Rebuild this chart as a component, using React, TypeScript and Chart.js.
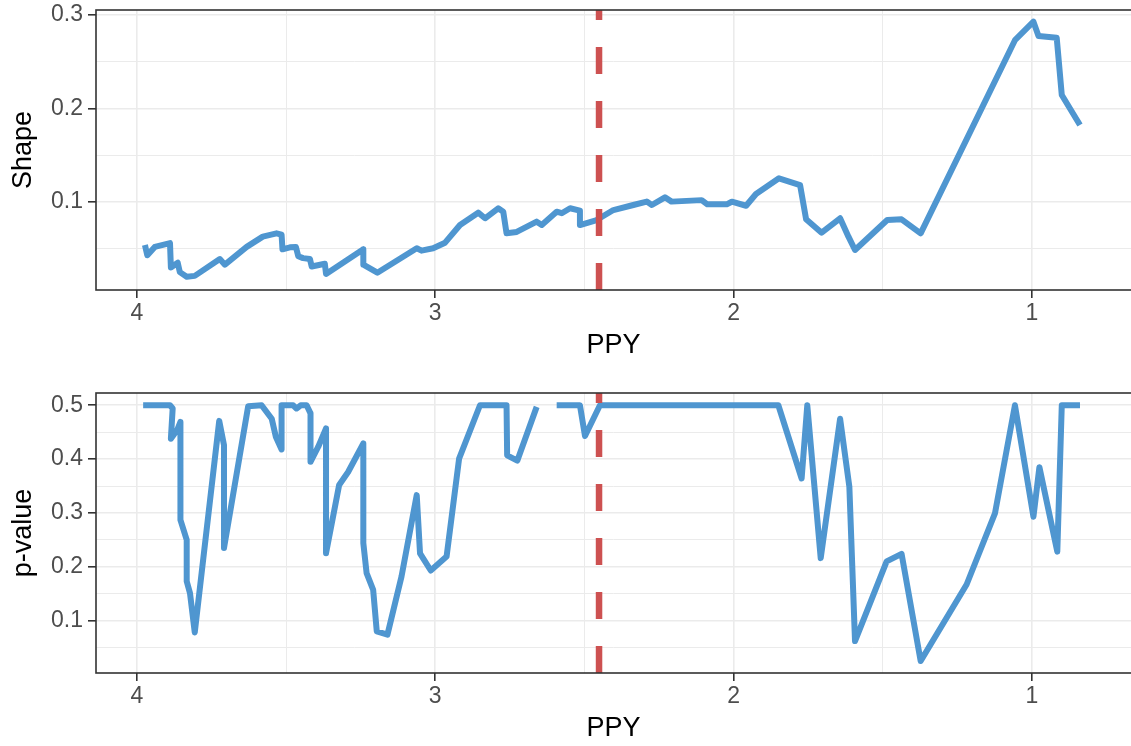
import React, { useEffect, useRef } from 'react';
import { Chart, registerables } from 'chart.js';

Chart.register(...registerables);

// ---- data ----
const shapeX = [3.973, 3.965, 3.940, 3.889, 3.886, 3.863, 3.856, 3.833, 3.806, 3.722, 3.705, 3.632, 3.578, 3.532, 3.515, 3.512, 3.487, 3.467, 3.459, 3.443, 3.420, 3.414, 3.370, 3.366, 3.241, 3.241, 3.194, 3.062, 3.046, 3.007, 2.967, 2.917, 2.856, 2.833, 2.789, 2.772, 2.761, 2.727, 2.660, 2.643, 2.593, 2.576, 2.548, 2.515, 2.515, 2.459, 2.403, 2.336, 2.291, 2.274, 2.230, 2.208, 2.107, 2.088, 2.023, 2.006, 1.958, 1.925, 1.848, 1.777, 1.757, 1.705, 1.643, 1.615, 1.593, 1.485, 1.437, 1.373, 1.057, 0.995, 0.978, 0.917, 0.900, 0.839];
const shapeY = [0.054, 0.043, 0.052, 0.056, 0.030, 0.035, 0.025, 0.020, 0.021, 0.039, 0.033, 0.052, 0.063, 0.0665, 0.065, 0.0494, 0.0515, 0.052, 0.042, 0.040, 0.039, 0.031, 0.034, 0.023, 0.0494, 0.033, 0.0244, 0.0505, 0.048, 0.0505, 0.0565, 0.0754, 0.0886, 0.0826, 0.0933, 0.0896, 0.0665, 0.068, 0.079, 0.0754, 0.0896, 0.088, 0.0933, 0.0907, 0.0754, 0.0807, 0.0914, 0.0968, 0.1004, 0.0968, 0.105, 0.1004, 0.102, 0.0975, 0.0975, 0.1003, 0.096, 0.1086, 0.1253, 0.118, 0.0815, 0.0672, 0.0826, 0.0629, 0.0487, 0.0807, 0.0815, 0.0665, 0.273, 0.2928, 0.2775, 0.2757, 0.2144, 0.1824];

const pvalX = [3.979, 3.889, 3.880, 3.886, 3.865, 3.854, 3.854, 3.833, 3.833, 3.822, 3.806, 3.724, 3.708, 3.708, 3.627, 3.582, 3.548, 3.534, 3.515, 3.515, 3.476, 3.465, 3.451, 3.431, 3.418, 3.418, 3.392, 3.366, 3.366, 3.322, 3.292, 3.241, 3.241, 3.230, 3.208, 3.196, 3.160, 3.113, 3.062, 3.051, 3.015, 2.962, 2.920, 2.850, 2.761, 2.759, 2.725, 2.660, 2.627, 2.593, 2.515, 2.498, 2.448, 1.850, 1.772, 1.753, 1.708, 1.643, 1.612, 1.593, 1.487, 1.437, 1.373, 1.219, 1.124, 1.057, 0.995, 0.975, 0.915, 0.900, 0.839];
const pvalY = [0.5, 0.5, 0.494, 0.438, 0.454, 0.469, 0.287, 0.25, 0.173, 0.151, 0.078, 0.471, 0.426, 0.235, 0.498, 0.5, 0.475, 0.441, 0.418, 0.5, 0.5, 0.494, 0.5, 0.5, 0.485, 0.395, 0.423, 0.457, 0.225, 0.352, 0.376, 0.429, 0.244, 0.188, 0.157, 0.080, 0.074, 0.182, 0.333, 0.225, 0.193, 0.219, 0.401, 0.5, 0.5, 0.407, 0.397, 0.497, null, 0.5, 0.5, 0.443, 0.5, 0.5, 0.364, 0.5, 0.216, 0.475, 0.349, 0.062, 0.210, 0.224, 0.025, 0.167, 0.299, 0.5, 0.293, 0.385, 0.228, 0.5, 0.5];

const xMajorTicks = [4, 3, 2, 1];
const shapeMajorTicks = [0.1, 0.2, 0.3];
const pvalMajorTicks = [0.1, 0.2, 0.3, 0.4, 0.5];
const vlineX = 2.451;

const FONT = "'Liberation Sans', Arial, Helvetica, sans-serif";
const LINE_COLOR = '#4f96d0';

const near = (list: number[], v: number) => list.some((m) => Math.abs(m - v) < 1e-6);

const panelPlugin = {
  id: 'panel',
  afterDatasetsDraw(chart: any, _args: any, opts: any) {
    const { ctx, chartArea: a, scales } = chart;
    const px = scales.x.getPixelForValue(opts.vline);
    ctx.save();
    ctx.beginPath();
    ctx.rect(a.left, a.top, a.right - a.left, a.bottom - a.top);
    ctx.clip();
    ctx.strokeStyle = '#cd5151';
    ctx.lineWidth = 6.5;
    ctx.lineCap = 'butt';
    ctx.setLineDash([27, 27]);
    ctx.beginPath();
    ctx.moveTo(px, a.bottom);
    ctx.lineTo(px, a.top);
    ctx.stroke();
    ctx.restore();
    ctx.save();
    ctx.strokeStyle = '#333333';
    ctx.lineWidth = 1.6;
    ctx.strokeRect(a.left, a.top, a.right - a.left + 10, a.bottom - a.top);
    ctx.restore();
  },
};

type PanelProps = {
  xs: number[];
  ys: (number | null)[];
  yMin: number;
  yMax: number;
  yMajor: number[];
  yTitle: string;
  height: number;
  padTop: number;
  axisH: number;
  titlePadBottom: number;
};

function Panel({ xs, ys, yMin, yMax, yMajor, yTitle, height, padTop, axisH, titlePadBottom }: PanelProps) {
  const ref = useRef<HTMLCanvasElement | null>(null);
  useEffect(() => {
    const data = xs.map((x, i) => ({ x, y: ys[i] }));
    const chart = new Chart(ref.current as HTMLCanvasElement, {
      type: 'line',
      data: {
        datasets: [
          {
            data: data as any,
            borderColor: LINE_COLOR,
            borderWidth: 6,
            pointRadius: 0,
            tension: 0,
            borderJoinStyle: 'round',
            borderCapStyle: 'butt',
            spanGaps: false,
          },
        ],
      },
      options: {
        animation: false,
        responsive: false,
        devicePixelRatio: 1,
        layout: { padding: { top: padTop, left: 0, right: 0, bottom: 0 } },
        plugins: {
          legend: { display: false },
          tooltip: { enabled: false },
          panel: { vline: vlineX },
        } as any,
        scales: {
          x: {
            type: 'linear',
            reverse: true,
            min: 0.668,
            max: 4.137,
            border: { display: false },
            grid: {
              color: '#ebebeb',
              lineWidth: (c: any) => (near(xMajorTicks, c.tick.value) ? 1.6 : 1),
              tickColor: (c: any) => (near(xMajorTicks, c.tick.value) ? '#333333' : 'rgba(0,0,0,0)'),
              tickWidth: 1.6,
              tickLength: 8,
              drawTicks: true,
            } as any,
            ticks: {
              stepSize: 0.5,
              includeBounds: false,
              autoSkip: false,
              maxRotation: 0,
              padding: 2,
              color: '#4d4d4d',
              font: { family: FONT, size: 23 },
              callback: (v: any) => (near(xMajorTicks, Number(v)) ? String(Math.round(Number(v))) : ''),
            },
            title: {
              display: true,
              text: 'PPY',
              color: '#000000',
              font: { family: FONT, size: 27 },
              padding: { top: 0, bottom: titlePadBottom },
            },
            afterFit: (s: any) => {
              s.height = axisH;
              s.paddingLeft = 0;
              s.paddingRight = 0;
            },
          } as any,
          y: {
            type: 'linear',
            min: yMin,
            max: yMax,
            border: { display: false },
            grid: {
              color: '#ebebeb',
              lineWidth: (c: any) => (near(yMajor, c.tick.value) ? 1.6 : 1),
              tickColor: (c: any) => (near(yMajor, c.tick.value) ? '#333333' : 'rgba(0,0,0,0)'),
              tickWidth: 1.6,
              tickLength: 8,
              drawTicks: true,
            } as any,
            ticks: {
              stepSize: 0.05,
              includeBounds: false,
              autoSkip: false,
              padding: 5,
              color: '#4d4d4d',
              font: { family: FONT, size: 23 },
              callback: (v: any) => (near(yMajor, Number(v)) ? Number(v).toFixed(1) : ''),
            },
            title: {
              display: true,
              text: yTitle,
              color: '#000000',
              font: { family: FONT, size: 27 },
              padding: { top: 7, bottom: 0 },
            },
            afterFit: (s: any) => {
              s.width = 96;
              s.paddingTop = 0;
              s.paddingBottom = 0;
            },
          } as any,
        },
      },
      plugins: [panelPlugin as any],
    });
    return () => chart.destroy();
  }, []);
  return <canvas ref={ref} width={1131} height={height} style={{ display: 'block', width: 1131, height }} />;
}

export default function App() {
  return (
    <div style={{ position: 'absolute', left: 0, top: 0, width: 1131, height: 746, background: '#ffffff' }}>
      <Panel xs={shapeX} ys={shapeY} yMin={0.0059} yMax={0.3053} yMajor={shapeMajorTicks} yTitle="Shape" height={373} padTop={10} axisH={83} titlePadBottom={11} />
      <Panel xs={pvalX} ys={pvalY} yMin={0.0026} yMax={0.5228} yMajor={pvalMajorTicks} yTitle="p-value" height={373} padTop={20} axisH={73} titlePadBottom={1} />
    </div>
  );
}
